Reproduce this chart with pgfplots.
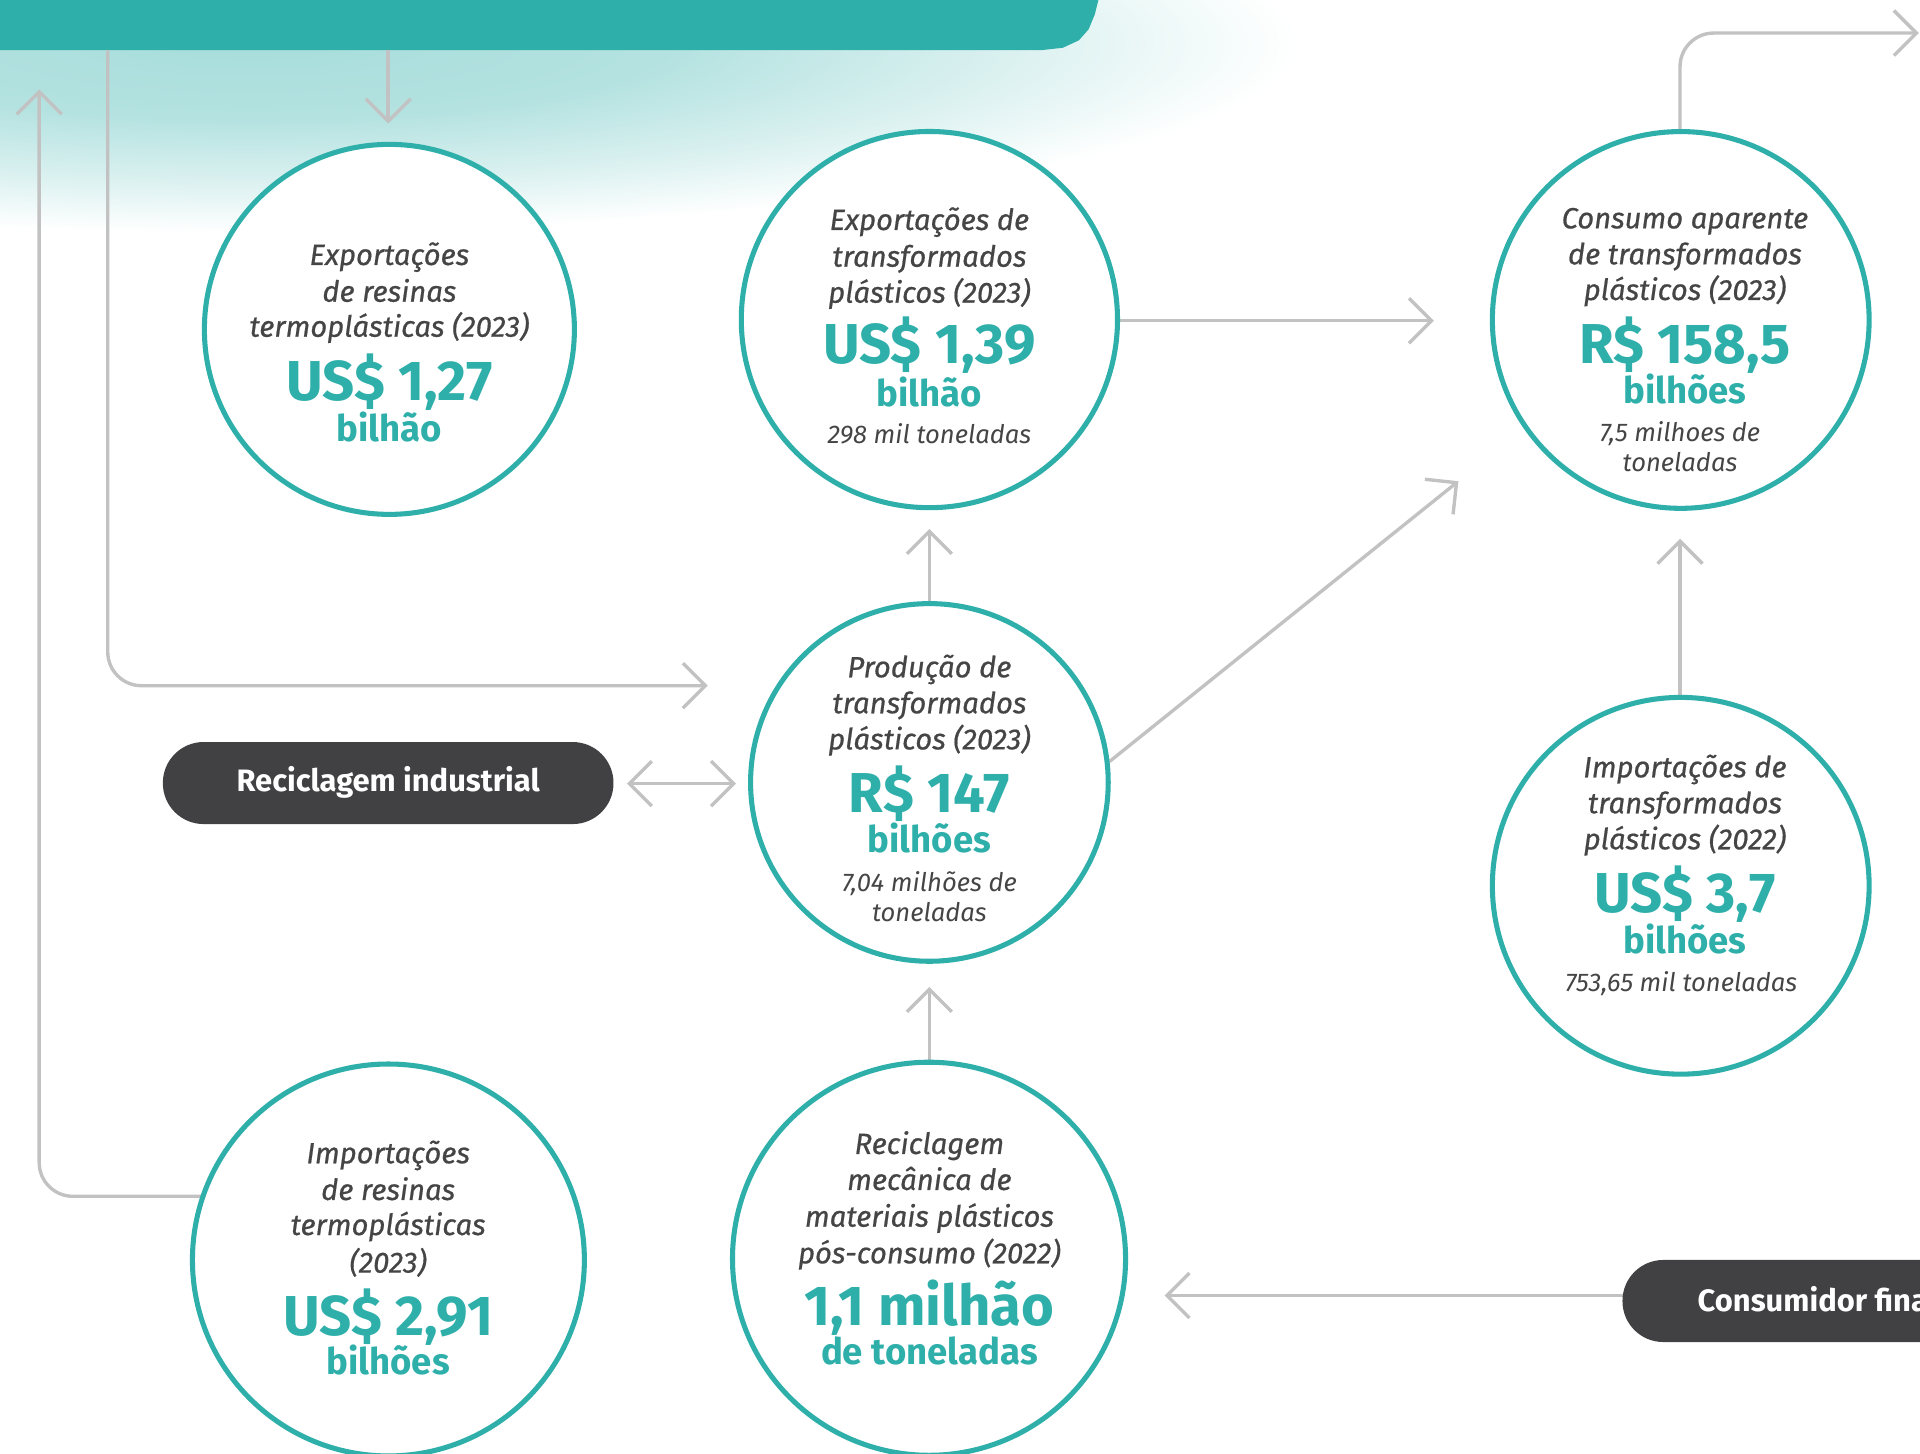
\documentclass[border=0pt]{standalone}
\usepackage{fontspec}
\setmainfont{Fira Sans}
\newfontfamily\labfont{Fira Sans}[FakeBold=0.6]
\usepackage{pgfplots}
\pgfplotsset{compat=1.18}
\usetikzlibrary{arrows.meta}

\definecolor{teal1}{HTML}{2EAFAA}
\definecolor{txt}{HTML}{454545}
\definecolor{arrowgray}{HTML}{C2C2C2}
\definecolor{pill}{HTML}{414143}

\pgfdeclareradialshading{glow}{\pgfpoint{0bp}{0bp}}{%
  color(0bp)=(teal1!42); color(10bp)=(teal1!36); color(18bp)=(teal1!18);
  color(25bp)=(white); color(50bp)=(white)}

\tikzset{
  arr/.style={draw=arrowgray, line width=1.2pt, -{Straight Barb[length=8pt,width=16pt]}},
  ring/.style={only marks, mark=*, mark options={draw=teal1, fill=white, line width=1.8pt}},
  lab/.style={font=\labfont\fontsize{10.4}{12}\selectfont\itshape, text=txt, anchor=base, inner sep=0pt},
  sub/.style={font=\fontsize{9.1}{11}\selectfont\itshape, text=txt, anchor=base, inner sep=0pt},
  val/.style={font=\fontsize{20}{22}\selectfont\bfseries, text=teal1, anchor=base, inner sep=0pt},
  unit/.style={font=\fontsize{13}{15}\selectfont\bfseries, text=teal1, anchor=base, inner sep=0pt},
  pilltxt/.style={font=\fontsize{11}{13}\selectfont\bfseries, text=white, anchor=base, inner sep=0pt},
}

\begin{document}
\begin{tikzpicture}
\begin{axis}[
  width=24cm, height=18.168cm, scale only axis,
  xmin=0, xmax=1568, ymin=0, ymax=1187, y dir=reverse,
  hide axis, clip=true, set layers,
]
% glow under the banner
\addplot[draw=none, shade, shading=glow]
  coordinates {(-650,-120) (1060,-120) (1060,190) (-650,190)};
% banner
\addplot[fill=teal1, draw=none]
  coordinates {(-5,-5) (898,-5) (897,0) (894,12) (889,24) (881,33) (868,39) (850,41) (-5,41)};

% arrows
\addplot[arr] coordinates {(317,41) (317,101)};
\addplot[arr, rounded corners=12pt] coordinates {(170,977) (32,977) (32,73)};
\addplot[arr, rounded corners=12pt] coordinates {(88,41) (88,560) (578,560)};
\addplot[arr, {Straight Barb[length=8pt,width=16pt]}-{Straight Barb[length=8pt,width=16pt]}] coordinates {(512,640) (601,640)};
\addplot[arr] coordinates {(759,493) (759,432)};
\addplot[arr] coordinates {(759,866) (759,806)};
\addplot[arr] coordinates {(906,622) (1191,393)};
\addplot[arr] coordinates {(914,262) (1171,262)};
\addplot[arr] coordinates {(1372,568) (1372,440)};
\addplot[arr, rounded corners=12pt] coordinates {(1372,106) (1372,27) (1567,27)};
\addplot[arr] coordinates {(1330,1058) (951,1058)};

% pills
\addplot[fill=pill, draw=none, rounded corners=14.5pt]
  coordinates {(317,606) (501,606) (501,673) (133,673) (133,606) (317,606)};
\addplot[fill=pill, draw=none, rounded corners=14.5pt]
  coordinates {(1450,1029) (1700,1029) (1700,1096) (1325,1096) (1325,1029) (1450,1029)};

% circles
\addplot[ring, mark size=65.8pt] coordinates {(318,269)};
\addplot[ring, mark size=66.9pt] coordinates {(759,261)};
\addplot[ring, mark size=67pt] coordinates {(1372.6,261.3)};
\addplot[ring, mark size=63.6pt] coordinates {(759,639)};
\addplot[ring, mark size=67pt] coordinates {(1372.6,723.4)};
\addplot[ring, mark size=69.7pt] coordinates {(317.2,1029)};
\addplot[ring, mark size=69.9pt] coordinates {(758.7,1028)};

% texts
\begin{pgfonlayer}{axis foreground}
\node[lab] at (axis cs:318,216.4) {Exportações};
\node[lab] at (axis cs:318,246.4) {de resinas};
\node[lab] at (axis cs:318,275) {termoplásticas (2023)};
\node[val] at (axis cs:318,327.2) {US\$ 1,27};
\node[unit] at (axis cs:318,360.7) {bilhão};

\node[lab] at (axis cs:759,187.8) {Exportações de};
\node[lab] at (axis cs:759,217.8) {transformados};
\node[lab] at (axis cs:759,247.2) {plásticos (2023)};
\node[val] at (axis cs:759,296.7) {US\$ 1,39};
\node[unit] at (axis cs:759,331.6) {bilhão};
\node[sub] at (axis cs:759,362) {298 mil toneladas};

\node[lab] at (axis cs:1376,186.5) {Consumo aparente};
\node[lab] at (axis cs:1376,215.9) {de transformados};
\node[lab] at (axis cs:1376,245) {plásticos (2023)};
\node[val] at (axis cs:1376,296.7) {R\$ 158,5};
\node[unit] at (axis cs:1376,329.4) {bilhões};
\node[sub] at (axis cs:1372,360.7) {7,5 milhoes de};
\node[sub] at (axis cs:1372,385.2) {toneladas};

\node[lab] at (axis cs:759,553.1) {Produção de};
\node[lab] at (axis cs:759,582.5) {transformados};
\node[lab] at (axis cs:759,612) {plásticos (2023)};
\node[val] at (axis cs:759,663.7) {R\$ 147};
\node[unit] at (axis cs:759,696.3) {bilhões};
\node[sub] at (axis cs:759,728.2) {7,04 milhões de};
\node[sub] at (axis cs:759,752.7) {toneladas};

\node[lab] at (axis cs:1376,634.8) {Importações de};
\node[lab] at (axis cs:1376,664.2) {transformados};
\node[lab] at (axis cs:1376,693.6) {plásticos (2022)};
\node[val] at (axis cs:1376,745) {US\$ 3,7};
\node[unit] at (axis cs:1376,778.5) {bilhões};
\node[sub] at (axis cs:1373,809.9) {753,65 mil toneladas};

\node[lab] at (axis cs:317,950) {Importações};
\node[lab] at (axis cs:317,980) {de resinas};
\node[lab] at (axis cs:317,1008.6) {termoplásticas};
\node[lab] at (axis cs:317,1039.3) {(2023)};
\node[val] at (axis cs:317,1091) {US\$ 2,91};
\node[unit] at (axis cs:317,1122.9) {bilhões};

\node[lab] at (axis cs:759,942.4) {Reciclagem};
\node[lab] at (axis cs:759,971.8) {mecânica de};
\node[lab] at (axis cs:759,1001.8) {materiais plásticos};
\node[lab] at (axis cs:759,1031.7) {pós-consumo (2022)};
\node[val] at (axis cs:759,1082.9) {1,1 milhão};
\node[unit] at (axis cs:759,1114.7) {de toneladas};

\node[pilltxt] at (axis cs:317,646.5) {Reciclagem industrial};
\node[pilltxt, anchor=base west] at (axis cs:1386,1071.2) {Consumidor final};
\end{pgfonlayer}
\end{axis}
\pgfresetboundingbox
\path[use as bounding box] (current axis.south west) rectangle (current axis.north east);
\end{tikzpicture}
\end{document}
